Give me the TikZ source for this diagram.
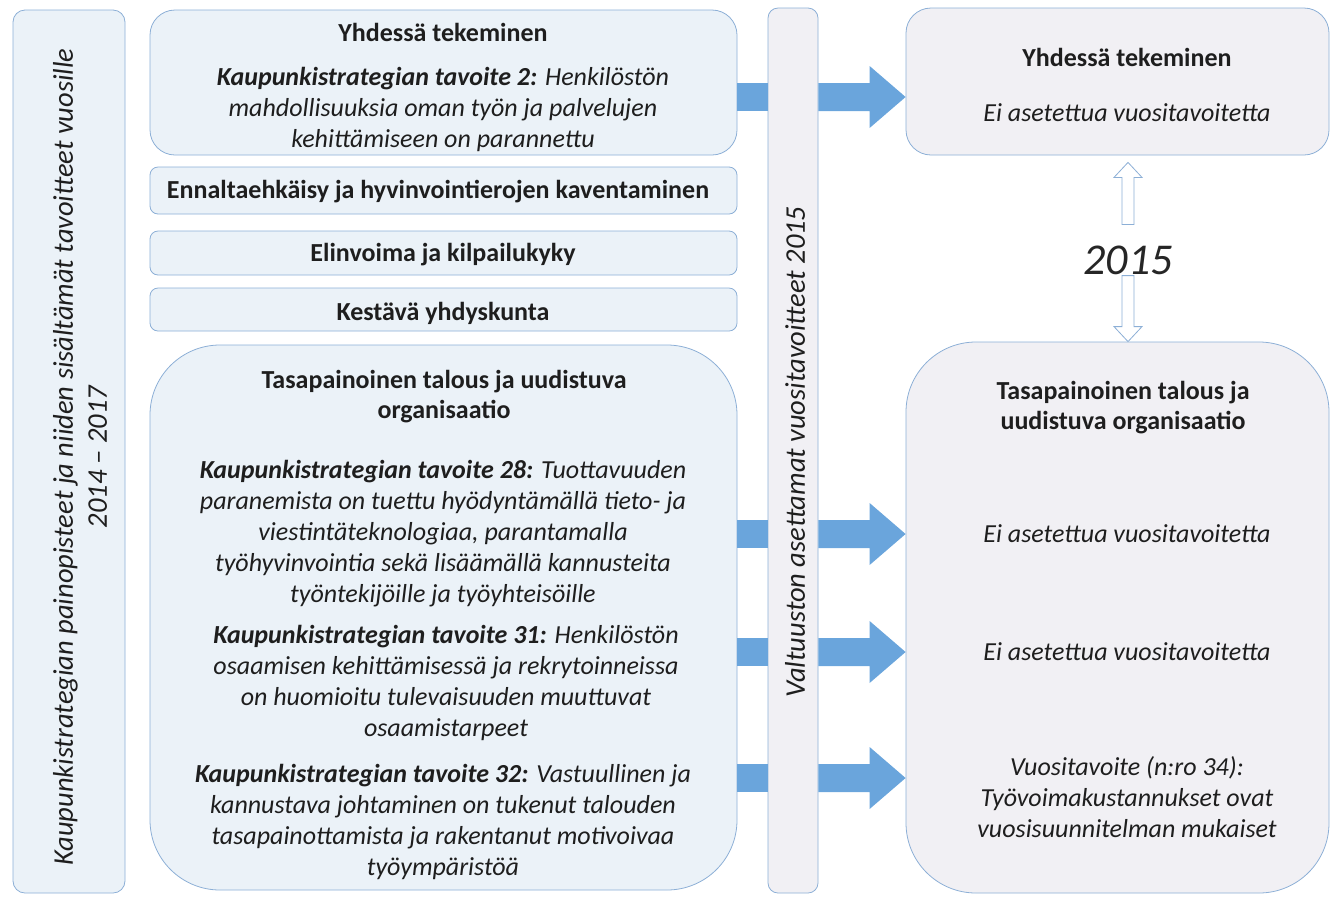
\documentclass[tikz,border=0pt]{standalone}
\usepackage{fontspec}
\setmainfont{Carlito}
\usetikzlibrary{calc}
\definecolor{bordblue}{HTML}{8CAFD6}
\definecolor{leftfill}{HTML}{EBF2F8}
\definecolor{rightfill}{HTML}{F1F0F4}
\definecolor{arrowblue}{HTML}{6AA5DC}
\definecolor{txt}{HTML}{1E1E1E}
\begin{document}
\begin{tikzpicture}[x=1pt,y=-1pt,
  lbox/.style={draw=bordblue, fill=leftfill, line width=0.8pt, inner sep=0pt},
  rbox/.style={draw=bordblue, fill=rightfill, line width=0.8pt, inner sep=0pt},
  txtn/.style={text=txt, align=center, inner sep=0pt, font=\fontsize{26}{31}\selectfont},
  ttl/.style={txtn, font=\fontsize{26}{30}\selectfont\bfseries},
  itl/.style={txtn, font=\fontsize{26}{31}\selectfont\itshape},
  vtl/.style={txtn, rotate=90, font=\fontsize{28.5}{34}\selectfont\itshape},
  hollow/.style={draw=bordblue, fill=white, line width=0.8pt, line join=miter},
  blk/.style={fill=arrowblue}
]
\useasboundingbox (0,0) rectangle (1330,898);
% boxes
\node[lbox, rounded corners=12pt, minimum width=112pt, minimum height=883pt] (lbar) at (69,451.5) {};
\node[lbox, rounded corners=25pt, minimum width=587pt, minimum height=145pt] (b1) at (443.5,82.5) {};
\node[lbox, rounded corners=8pt, minimum width=587pt, minimum height=47pt] (b2) at (443.5,190.5) {};
\node[lbox, rounded corners=8pt, minimum width=587pt, minimum height=44pt] (b3) at (443.5,253) {};
\node[lbox, rounded corners=8pt, minimum width=587pt, minimum height=43pt] (b4) at (443.5,309.5) {};
\node[lbox, rounded corners=70pt, minimum width=587pt, minimum height=545pt] (b5) at (443.5,617.5) {};
\node[rbox, rounded corners=10pt, minimum width=50pt, minimum height=885pt] (mid) at (793,450.5) {};
\node[rbox, rounded corners=25pt, minimum width=423pt, minimum height=147pt] (rt) at (1117.5,81.5) {};
\node[rbox, rounded corners=70pt, minimum width=423pt, minimum height=551pt] (rb) at (1117.5,617.5) {};

% vertical texts
\node[vtl] (ltxt) at (80,457)
  {Kaupunkistrategian painopisteet ja niiden sisältämät tavoitteet vuosille\\2014 – 2017};
\node[vtl] (mtxt) at (795,452)
  {Valtuuston asettamat vuositavoitteet 2015};

% left column texts
\node[ttl] (t1) at (443,32) {Yhdessä tekeminen};
\node[itl] (p1) at (443,109) {\textbf{Kaupunkistrategian tavoite 2:} Henkilöstön\\mahdollisuuksia oman työn ja palvelujen\\kehittämiseen on parannettu};
\node[ttl] (t2) at (438,192) {Ennaltaehkäisy ja hyvinvointierojen kaventaminen};
\node[ttl] (t3) at (443,255) {Elinvoima ja kilpailukyky};
\node[ttl] (t4) at (443,313) {Kestävä yhdyskunta};
\node[ttl] (t5) at (444,397) {Tasapainoinen talous ja uudistuva\\organisaatio};
\node[itl] (p2) at (443,533.5) {\textbf{Kaupunkistrategian tavoite 28:} Tuottavuuden\\paranemista on tuettu hyödyntämällä tieto- ja\\viestintäteknologiaa, parantamalla\\työhyvinvointia sekä lisäämällä kannusteita\\työntekijöille ja työyhteisöille};
\node[itl] (p3) at (446,683) {\textbf{Kaupunkistrategian tavoite 31:} Henkilöstön\\osaamisen kehittämisessä ja rekrytoinneissa\\on huomioitu tulevaisuuden muuttuvat\\osaamistarpeet};
\node[itl] (p4) at (443,822) {\textbf{Kaupunkistrategian tavoite 32:} Vastuullinen ja\\kannustava johtaminen on tukenut talouden\\tasapainottamista ja rakentanut motivoivaa\\työympäristöä};

% right column texts
\node[ttl] (r1) at (1127,57) {Yhdessä tekeminen};
\node[itl] (r2) at (1127,113) {Ei asetettua vuositavoitetta};
\node[ttl] (r3) at (1123,408) {Tasapainoinen talous ja\\uudistuva organisaatio};
\node[itl] (r4) at (1127,534) {Ei asetettua vuositavoitetta};
\node[itl] (r5) at (1127,652) {Ei asetettua vuositavoitetta};
\node[itl] (r6) at (1127,797.5) {Vuositavoite (n:ro 34):\\Työvoimakustannukset ovat\\vuosisuunnitelman mukaiset};

\node[txtn, font=\fontsize{44}{48}\selectfont\itshape, text=black!85] (yr) at (1128,260) {2015};

% hollow arrows
\coordinate (utip) at ($(rt.south -| yr)+(0,7)$);
\draw[hollow] (utip) -- ++(14,15) -- ++(-8,0) -- ++(0,47) -- ++(-12,0) -- ++(0,-47) -- ++(-8,0) -- cycle;
\coordinate (dtip) at (rb.north -| yr);
\draw[hollow] (dtip) -- ++(14,-15) -- ++(-8,0) -- ++(0,-51) -- ++(-12,0) -- ++(0,51) -- ++(-8,0) -- cycle;

% block arrows
\foreach \src/\dst/\yy in {b1/rt/97, b5/rb/534, b5/rb/652, b5/rb/778} {
  \coordinate (lv) at (0,\yy);
  \fill[blk] ($(\src.east |- lv)+(0,-14)$) rectangle ($(mid.west |- lv)+(0,14)$);
  \fill[blk] ($(mid.east |- lv)+(0,-14)$) -- ($(\dst.west |- lv)+(-36,-14)$) -- ($(\dst.west |- lv)+(-36,-31)$)
    -- (\dst.west |- lv) -- ($(\dst.west |- lv)+(-36,31)$) -- ($(\dst.west |- lv)+(-36,14)$)
    -- ($(mid.east |- lv)+(0,14)$) -- cycle;
}
\end{tikzpicture}
\end{document}
